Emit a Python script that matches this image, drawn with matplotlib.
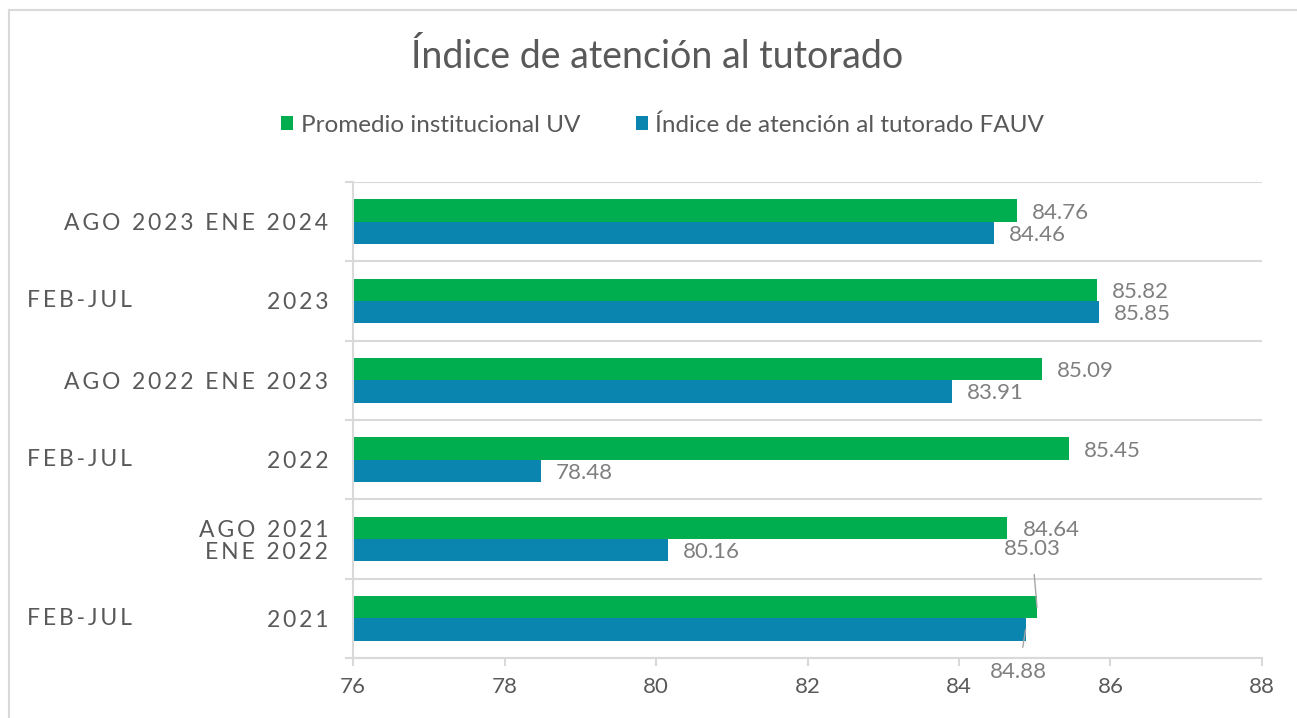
import matplotlib
matplotlib.use("Agg")
import matplotlib.pyplot as plt
import numpy as np
from matplotlib.transforms import blended_transform_factory

# ── Datos (de abajo hacia arriba) ────────────────────────────
periodos_der = ["2021", "AGO 2021\nENE 2022", "2022",
                "AGO 2022 ENE 2023", "2023", "AGO 2023 ENE 2024"]
periodos_izq = ["FEB-JUL", "", "FEB-JUL", "", "FEB-JUL", ""]
promedio_uv = [85.03, 84.64, 85.45, 85.09, 85.82, 84.76]
indice_fauv = [84.88, 80.16, 78.48, 83.91, 85.85, 84.46]
series = ["Promedio institucional UV", "Índice de atención al tutorado FAUV"]

VERDE = "#00AD4F"
AZUL = "#0A85B0"
GRIS = "#595959"
GRIS_ETQ = "#7F7F7F"
LINEA = "#D9D9D9"

plt.rcParams["font.family"] = ["Lato", "DejaVu Sans"]


def espaciado(txt):
    # simula el espaciado entre letras de las etiquetas
    return "\n".join("\u2009".join(linea) for linea in txt.split("\n"))


fig = plt.figure(figsize=(12.97, 7.18), dpi=100)
ax = fig.add_axes([0.2722, 0.0836, 0.7008, 0.663])

y = np.arange(len(periodos_der))
alto = 0.28
b1 = ax.barh(y + alto / 2, promedio_uv, height=alto, color=VERDE, label=series[0])
b2 = ax.barh(y - alto / 2, indice_fauv, height=alto, color=AZUL, label=series[1])

ax.set_xlim(76, 88)
ax.set_ylim(-0.5, len(y) - 0.5)
ax.set_xticks(np.arange(76, 89, 2))

# etiquetas de datos
for barras, vals in ((b1, promedio_uv), (b2, indice_fauv)):
    for i, (b, v) in enumerate(zip(barras, vals)):
        yc = b.get_y() + b.get_height() / 2
        if i == 0:
            # primer periodo: etiquetas desplazadas con línea guía
            dx, dy = (-5, 58) if barras is b1 else (-7, -43)
            ax.annotate(f"{v:.2f}", xy=(v, yc), xytext=(dx, dy),
                        textcoords="offset pixels", ha="center", va="center",
                        fontsize=16, color=GRIS_ETQ,
                        arrowprops=dict(arrowstyle="-", color="#A6A6A6", lw=1,
                                        shrinkA=9, shrinkB=0))
        else:
            ax.annotate(f"{v:.2f}", xy=(v, yc), xytext=(15, -2),
                        textcoords="offset pixels", ha="left", va="center",
                        fontsize=16, color=GRIS_ETQ)

# ejes y rejilla
ax.set_yticks(y)
ax.set_yticklabels([espaciado(t) for t in periodos_der], fontsize=16.5,
                   color=GRIS, ha="right", linespacing=1.08)
ax.set_yticks(np.arange(-0.5, len(y), 1), minor=True)
ax.tick_params(axis="y", which="major", length=0, pad=18)
ax.tick_params(axis="y", which="minor", length=6, color=LINEA, width=1.5)
ax.tick_params(axis="x", length=6, color=LINEA, width=1.5, labelsize=16,
               labelcolor=GRIS, pad=8)
ax.grid(axis="y", which="minor", color=LINEA, lw=1.5)
for lado in ("top", "right"):
    ax.spines[lado].set_visible(False)
for lado in ("left", "bottom"):
    ax.spines[lado].set_color(LINEA)
    ax.spines[lado].set_linewidth(1.5)
ax.set_axisbelow(True)

trans_izq = blended_transform_factory(fig.transFigure, ax.transData)
for yi, t in zip(y, periodos_izq):
    if t:
        ax.text(27 / 1297, yi, espaciado(t), transform=trans_izq,
                ha="left", va="center", fontsize=16.5, color=GRIS)

# título y leyenda
fig.text(0.507, 0.921, "Índice de atención al tutorado", ha="center", va="center",
         fontsize=27, color=GRIS)
fig.legend(handles=[b1, b2], loc="center", bbox_to_anchor=(0.511, 0.826),
           ncol=2, frameon=False, fontsize=17.5, labelcolor=GRIS,
           handlelength=0.5, handleheight=0.5, handletextpad=0.3,
           columnspacing=2.3)

# borde del gráfico
fig.add_artist(plt.Line2D([8.5 / 1297, 8.5 / 1297], [0, 1 - 9.5 / 718],
                          transform=fig.transFigure, color=LINEA, lw=1.5))
fig.add_artist(plt.Line2D([8.5 / 1297, 1], [1 - 9.5 / 718, 1 - 9.5 / 718],
                          transform=fig.transFigure, color=LINEA, lw=1.5))

fig.savefig("out.png", dpi=100)
plt.close(fig)
